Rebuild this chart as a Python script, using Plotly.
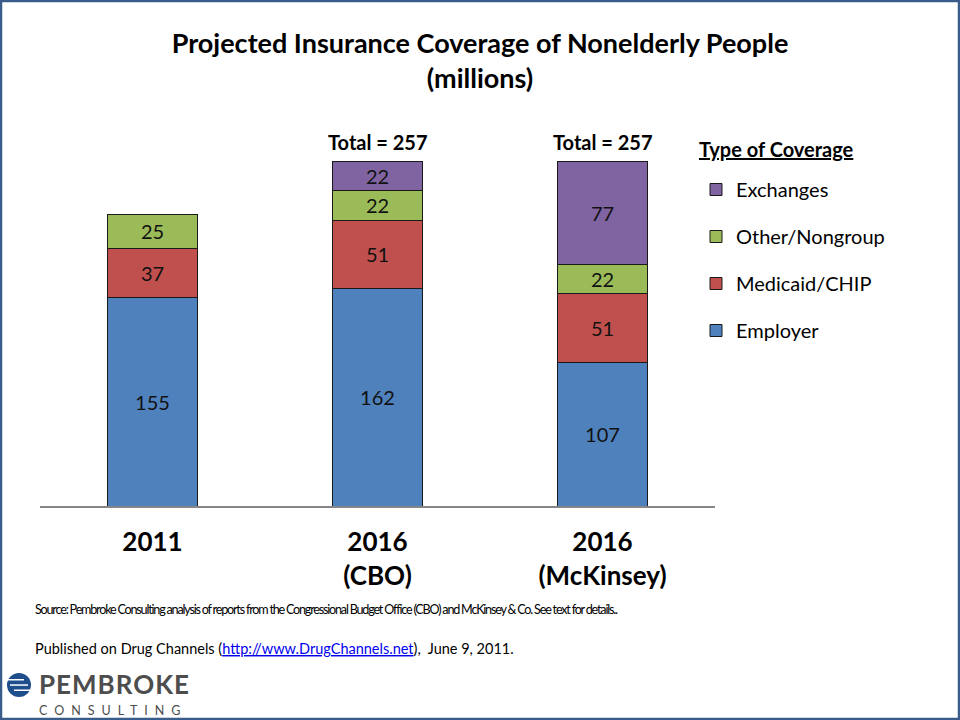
import plotly.graph_objects as go

# ---- data ----
categories = ["2011", "2016<br>(CBO)", "2016<br>(McKinsey)"]
employer = [155, 162, 107]
medicaid = [37, 51, 51]
other = [25, 22, 22]
exchanges = [None, 22, 77]
totals = [217, 257, 257]
series_names = ["Employer", "Medicaid/CHIP", "Other/Nongroup", "Exchanges"]
series_values = [employer, medicaid, other, exchanges]
colors = ["#4F81BD", "#C0504D", "#9BBB59", "#8064A2"]

FONT = "Lato"
W, H = 960, 720
ML, MR, MT, MB = 40, 245, 100, 214
PW = W - ML - MR
PH = H - MT - MB


def px(x):
    return (x - ML) / PW


def py(y):
    return (H - MB - y) / PH


fig = go.Figure()
for i, (name, vals, col) in enumerate(zip(series_names, series_values, colors)):
    fig.add_trace(go.Bar(
        x=categories, y=vals, name=name, legendgroup=name, legendrank=len(series_names) - i,
        marker=dict(color=col, line=dict(color="#1a1a1a", width=1)),
        text=[("" if v is None else str(v)) for v in vals],
        textposition="inside", insidetextanchor="middle", textangle=0,
        textfont=dict(family=FONT, size=20, color="#111111"),
        hoverinfo="skip",
    ))

annotations = []
for c, t in zip(categories, totals):
    annotations.append(dict(
        x=c, y=t, xref="x", yref="y", text=f"<b>Total = {t}</b>",
        showarrow=False, yanchor="bottom", yshift=5,
        font=dict(family=FONT, size=20, color="#000000"),
    ))

annotations += [
    dict(x=px(697), y=py(149), xref="paper", yref="paper", xanchor="left", yanchor="middle",
         showarrow=False,
         text="<b><span style='text-decoration:underline'>Type of Coverage</span></b>",
         font=dict(family=FONT, size=20, color="#000000")),
    dict(x=px(33), y=py(609), xref="paper", yref="paper", xanchor="left", yanchor="middle",
         showarrow=False,
         text="<span style='letter-spacing:-1.2px'>Source: Pembroke Consulting analysis of reports from the Congressional Budget Office (CBO) and McKinsey &amp; Co. See text for details..</span>",
         font=dict(family=FONT, size=12.6, color="#000000")),
    dict(x=px(33), y=py(648), xref="paper", yref="paper", xanchor="left", yanchor="middle",
         showarrow=False,
         text="Published on Drug Channels (<span style='color:#0000EE;text-decoration:underline'>http://www.DrugChannels.net</span>),  June 9, 2011.",
         font=dict(family=FONT, size=14.5, color="#000000")),
    dict(x=px(37), y=py(684), xref="paper", yref="paper", xanchor="left", yanchor="middle",
         showarrow=False,
         text="<b><span style='letter-spacing:1px'>PEMBROKE</span></b>",
         font=dict(family=FONT, size=26, color="#4D4D4D")),
    dict(x=px(37), y=py(710), xref="paper", yref="paper", xanchor="left", yanchor="middle",
         showarrow=False,
         text="<span style='letter-spacing:7px'>CONSULTING</span>",
         font=dict(family=FONT, size=12.5, color="#4D4D4D")),
]

shapes = [
    # frame
    dict(type="rect", xref="paper", yref="paper", x0=px(1), x1=px(959), y0=py(719), y1=py(1),
         line=dict(color="#385D8A", width=2.5), fillcolor="rgba(0,0,0,0)", layer="above"),
    # logo mark
    dict(type="circle", xref="paper", yref="paper", x0=px(7), x1=px(31), y0=py(697), y1=py(673),
         line=dict(width=0), fillcolor="#1F4E8C"),
    dict(type="rect", xref="paper", yref="paper", x0=px(5), x1=px(24), y0=py(680.5), y1=py(679),
         line=dict(width=0), fillcolor="white"),
    dict(type="rect", xref="paper", yref="paper", x0=px(10), x1=px(28), y0=py(685.8), y1=py(684.3),
         line=dict(width=0), fillcolor="white"),
    dict(type="rect", xref="paper", yref="paper", x0=px(14), x1=px(33), y0=py(691), y1=py(689.5),
         line=dict(width=0), fillcolor="white"),
]

fig.update_layout(
    width=W, height=H,
    margin=dict(l=ML, r=MR, t=MT, b=MB),
    paper_bgcolor="white", plot_bgcolor="white",
    barmode="stack", bargap=0.604,
    uniformtext=dict(minsize=20, mode="show"),
    font=dict(family=FONT, color="#000000"),
    title=dict(text="<b>Projected Insurance Coverage of Nonelderly People<br>(millions)</b>",
               x=0.5, xref="container", xanchor="center",
               y=1 - 53 / H, yref="container", yanchor="middle",
               font=dict(family=FONT, size=27, color="#000000")),
    xaxis=dict(showline=True, linecolor="#868686", linewidth=1.5, showgrid=False,
               ticks="outside", ticklen=12, tickcolor="rgba(0,0,0,0)",
               tickfont=dict(family=FONT, size=26, color="#000000"),
               range=[-0.5, 2.5], fixedrange=True),
    yaxis=dict(visible=False, range=[0, PH / 1.3424], fixedrange=True),
    showlegend=True,
    legend=dict(x=px(696), y=py(170), xanchor="left", yanchor="top",
                traceorder="grouped", tracegroupgap=18,
                font=dict(family=FONT, size=20, color="#000000"),
                bgcolor="rgba(0,0,0,0)"),
    annotations=annotations,
    shapes=shapes,
)

# bold tick labels
fig.update_xaxes(ticktext=[f"<b>{c}</b>" for c in categories], tickvals=categories)

fig.write_html("out.html", config={"displayModeBar": False},
               post_script="document.body.style.margin='0';document.body.style.padding='0';")
